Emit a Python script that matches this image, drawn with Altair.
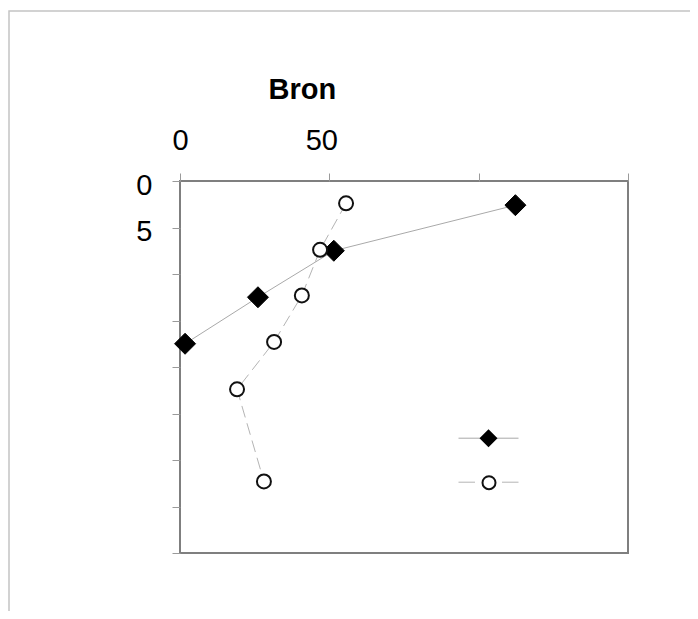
import altair as alt
import pandas as pd

# ---- data ----
s1_x = [112.3, 51.5, 26.1, 1.7]          # filled diamonds, solid line
s1_y = [2.6, 7.5, 12.5, 17.5]
s2_x = [55.6, 46.9, 40.8, 31.5, 19.1, 28.1]  # open circles, dashed line
s2_y = [2.4, 7.4, 12.3, 17.3, 22.4, 32.3]
series_names = ["Serie 1", "Serie 2"]
x_ticks = [0, 50, 100, 150]
y_ticks = [0, 5, 10, 15, 20, 25, 30, 35, 40]
x_title = "Bron"

df1 = pd.DataFrame({"x": s1_x, "y": s1_y, "i": list(range(len(s1_x))), "series": series_names[0]})
df2 = pd.DataFrame({"x": s2_x, "y": s2_y, "i": list(range(len(s2_x))), "series": series_names[1]})
frame_df = pd.DataFrame({"k": [0]})

FONT = "Liberation Sans"


def X():
    return alt.X(
        "x:Q",
        scale=alt.Scale(domain=[0, 150], nice=False, zero=False),
        axis=alt.Axis(
            orient="top", values=x_ticks,
            labelExpr="datum.value <= 50 ? datum.label : ''",
            labelFlush=False,
            labelOffset={"condition": {"test": "datum.value == 50", "value": -8}, "value": 0},
            title=x_title, titleX=88, titleY=-83, titleAlign="left",
            titleBaseline="alphabetic", titleFont=FONT, titleFontSize=29,
            titleFontWeight="bold", titleColor="black",
            labelFont=FONT, labelFontSize=29, labelColor="black",
            labelPadding=18, tickSize=8, tickColor="#9a9a9a",
            domain=False, grid=False,
        ),
    )


def Y():
    return alt.Y(
        "y:Q",
        scale=alt.Scale(domain=[0, 40], nice=False, reverse=True),
        axis=alt.Axis(
            orient="left", values=y_ticks,
            labelExpr="datum.value <= 5 ? datum.label : ''",
            title=None, labelFont=FONT, labelFontSize=29, labelColor="black",
            labelPadding=20, labelOffset=4, tickSize=8, tickColor="#9a9a9a",
            domain=False, grid=False,
        ),
    )


frame = alt.Chart(frame_df).mark_rect(
    fill="white", fillOpacity=0, stroke="#c4c4c4", strokeWidth=1.5
).encode(
    x=alt.value(-171), x2=alt.value(700), y=alt.value(-170), y2=alt.value(700)
)

line1 = alt.Chart(df1).mark_line(color="#a9a9a9", strokeWidth=1).encode(
    x=X(), y=Y(), order="i:Q"
)
line2 = alt.Chart(df2).mark_line(color="#b4b4b4", strokeWidth=1, strokeDash=[12, 6]).encode(
    x=X(), y=Y(), order="i:Q"
)
pts1 = alt.Chart(df1).mark_point(
    shape="diamond", filled=True, fill="black", stroke="black", strokeWidth=1,
    size=441, opacity=1
).encode(x=X(), y=Y())
pts2 = alt.Chart(df2).mark_point(
    shape="circle", filled=True, fill="white", stroke="#111111", strokeWidth=2,
    size=196, opacity=1
).encode(x=X(), y=Y())

# ---- legend (labels clipped away in the reference) ----
LINE_SOLID = "M-1,0H1"
LINE_DASH = "M-1,0H-0.45M0.45,0H1"
LEG_CX = 308          # symbol centre, plot pixels
LEG_CY = [256.7, 300.7]


def legend_layer(df, name, shape, size, cy, fill, stroke, sw, filled=True):
    half = (size ** 0.5) / 2
    leg = alt.Legend(
        orient="none", legendX=LEG_CX - half, legendY=cy - half, title=None, padding=0,
        symbolSize=size, symbolOffset=0, labelExpr="''", labelFontSize=1,
        symbolFillColor=fill, symbolStrokeColor=stroke, symbolStrokeWidth=sw,
        symbolOpacity=1,
    )
    if filled:
        mark = alt.Chart(df).transform_filter("false").mark_point(
            filled=True, fill=fill, stroke=stroke, strokeWidth=sw, opacity=1
        )
    else:
        mark = alt.Chart(df).transform_filter("false").mark_point(
            filled=False, color=stroke, strokeWidth=sw, opacity=1
        )
    return mark.encode(
        shape=alt.Shape("series:N", scale=alt.Scale(domain=[name], range=[shape]), legend=leg)
    )


leg_l1 = legend_layer(df1, series_names[0], LINE_SOLID, 3600, LEG_CY[0], "transparent", "#a9a9a9", 1)
leg_l2 = legend_layer(df2, series_names[1], LINE_DASH, 3600, LEG_CY[1], "transparent", "#b4b4b4", 1)
leg_s1 = legend_layer(df1, series_names[0], "diamond", 324, LEG_CY[0], "black", "black", 1)
leg_s2 = legend_layer(df2, series_names[1], "circle", 169, LEG_CY[1], "white", "#111111", 2, filled=False)

chart = alt.layer(
    frame, line1, line2, pts1, pts2, leg_l1, leg_l2, leg_s1, leg_s2
).resolve_scale(shape="independent").resolve_legend(shape="independent").properties(
    width=448, height=372,
    autosize=alt.AutoSizeParams(type="none"),
    padding={"left": 172, "top": 173, "right": 62, "bottom": 58},
    background="white",
).configure_view(stroke="#7f7f7f", strokeWidth=2)

chart.save("out.html", embed_options={"renderer": "svg", "actions": False})
